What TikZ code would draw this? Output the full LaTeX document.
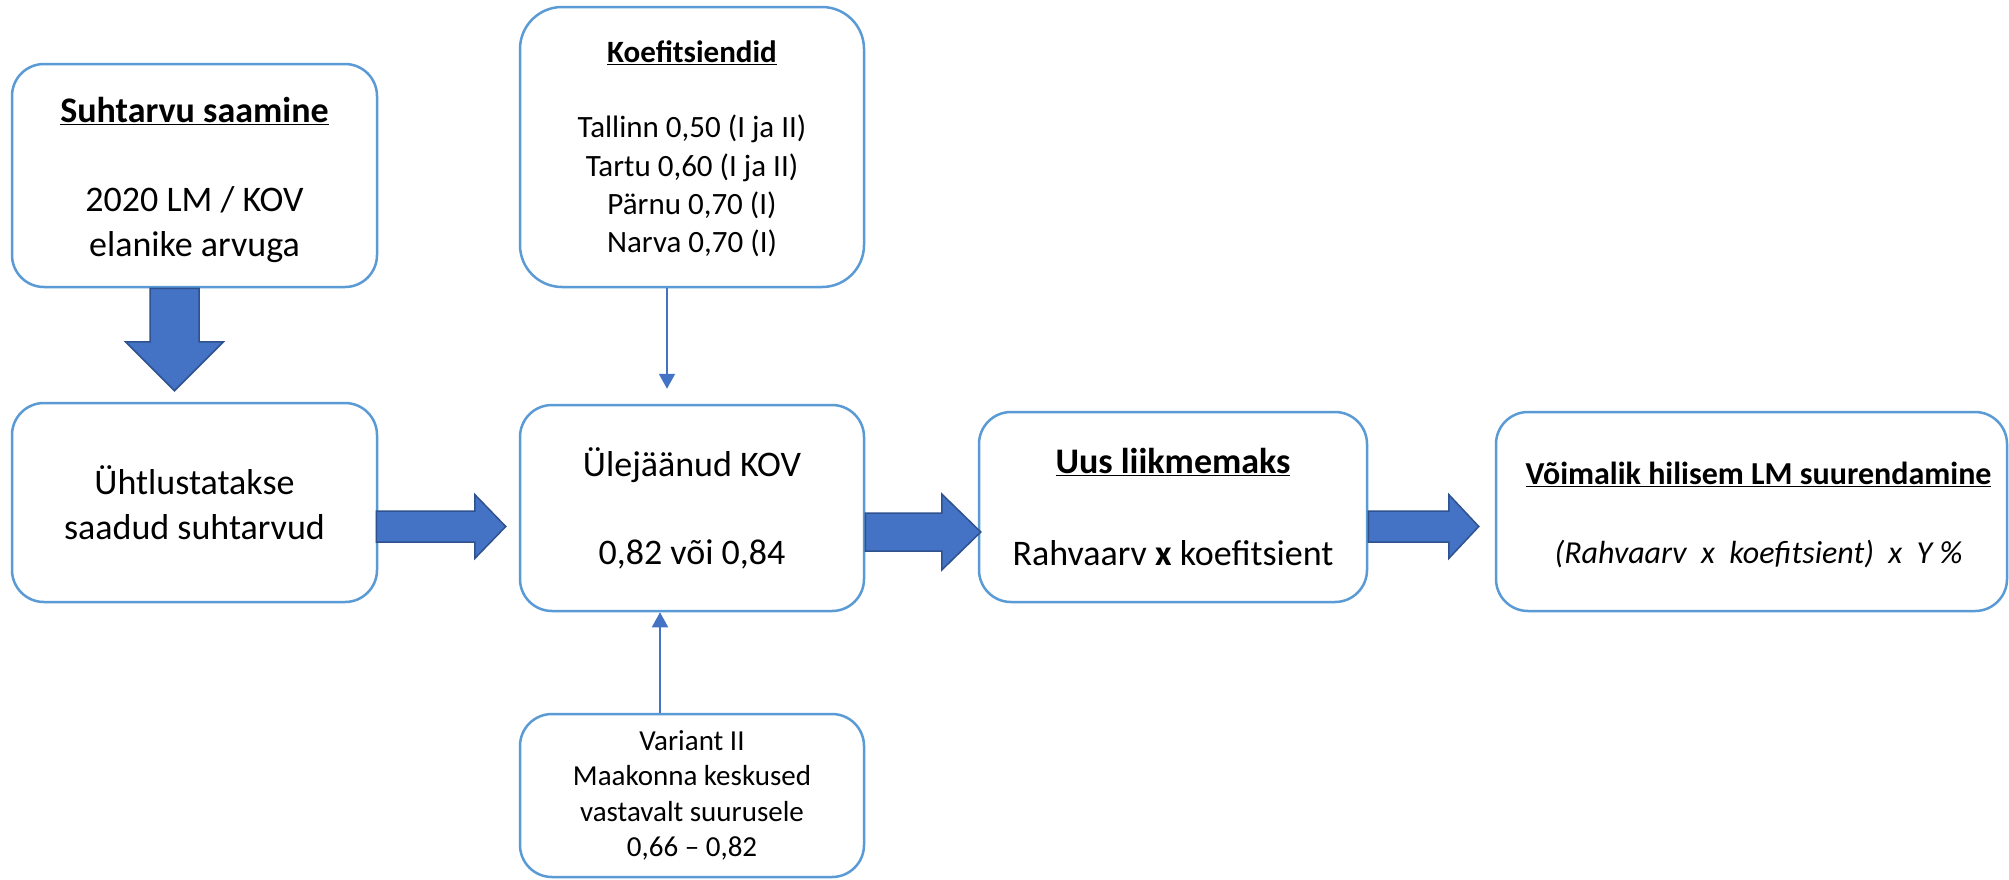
\documentclass[tikz,border=0pt]{standalone}
\usepackage{fontspec}
\setmainfont{Carlito}
\usetikzlibrary{arrows.meta,calc}
\definecolor{boxblue}{HTML}{5B9BD5}
\definecolor{arrowfill}{HTML}{4472C4}
\definecolor{arrowline}{HTML}{2F528F}
\newcommand{\fs}[2]{\fontsize{#1}{#2}\selectfont}
\tikzset{
  box/.style={draw=boxblue, line width=2.5pt, rounded corners=32pt, fill=white,
    align=center, inner sep=0pt, anchor=center},
  bigarrow/.style={fill=arrowfill, draw=arrowline, line width=1.5pt, line join=miter},
  thinarrow/.style={draw=arrowfill, line width=2pt, -{Triangle[width=16pt,length=15pt]}}
}
% horizontal block arrow: start, tip, shaft half width, head half width, head length
\newcommand{\hblock}[5]{%
  \draw[bigarrow] let \p1=(#1), \p2=(#2) in
    (\x1,\y1+#3) -- (\x2-#5,\y1+#3) -- (\x2-#5,\y1+#4) -- (\x2,\y1)
    -- (\x2-#5,\y1-#4) -- (\x2-#5,\y1-#3) -- (\x1,\y1-#3) -- cycle;}
\newcommand{\vblock}[5]{%
  \draw[bigarrow] let \p1=(#1), \p2=(#2) in
    (\x1+#3,\y1) -- (\x1+#3,\y2+#5) -- (\x1+#4,\y2+#5) -- (\x1,\y2)
    -- (\x1-#4,\y2+#5) -- (\x1-#3,\y2+#5) -- (\x1-#3,\y1) -- cycle;}
\begin{document}
\begin{tikzpicture}[x=1pt,y=-1pt]
\useasboundingbox[fill=white] (0,0) rectangle (2009,879);

% boxes
\node[box, minimum width=365pt, minimum height=223pt, font=\fs{36}{45}] (b1) at (194.5,175.5)
  {\rule{0pt}{34pt}\textbf{\underline{Suhtarvu saamine}}\\[44pt]2020 LM / KOV\\elanike arvuga};
\node[box, minimum width=365pt, minimum height=199pt, font=\fs{36}{45}] (b2) at (194.5,502.5)
  {Ühtlustatakse\\saadud suhtarvud};
\node[box, rounded corners=42pt, minimum width=344pt, minimum height=280pt, font=\fs{31}{38.3}] (b0) at (692,147)
  {\rule{0pt}{26pt}\textbf{\underline{Koefitsiendid}}\\[36.7pt]Tallinn 0,50 (I ja II)\\Tartu 0,60 (I ja II)\\Pärnu 0,70 (I)\\Narva 0,70 (I)};
\node[box, minimum width=344pt, minimum height=206pt, font=\fs{36}{44}] (b3) at (692,508)
  {Ülejäänud KOV\\[44pt]0,82 või 0,84};
\node[box, minimum width=344pt, minimum height=163pt, font=\fs{29}{35.5}] (bv) at (692,795.5)
  {Variant II\\Maakonna keskused\\vastavalt suurusele\\0,66 – 0,82};
\node[box, minimum width=388pt, minimum height=190pt, font=\fs{36}{46}] (b4) at (1173,507)
  {\textbf{\underline{Uus liikmemaks}}\\[46pt]Rahvaarv \textbf{x} koefitsient};
\node[box, minimum width=511pt, minimum height=199pt, font=\fs{32}{39}] (b5) at (1751.5,511.5)
  {\hspace*{14pt}\rule{0pt}{30pt}\textbf{\underline{Võimalik hilisem LM suurendamine}}\\[40pt]\hspace*{14pt}\textit{(Rahvaarv~~x~~koefitsient)~~x~~Y~\%}};

% block arrows
\coordinate (d1s) at ($(b1.south)+(-20,0)$);
\coordinate (d1e) at ($(d1s |- b2.north)+(0,-11)$);
\vblock{d1s}{d1e}{24.5pt}{49pt}{49pt}

\coordinate (a1s) at ($(b2.east)+(-2,24)$);
\coordinate (a1e) at ($(a1s -| b3.west)+(-13,0)$);
\hblock{a1s}{a1e}{15.5pt}{32pt}{31pt}

\coordinate (a2s) at ($(b3.east)+(0,24)$);
\coordinate (a2e) at ($(a2s -| b4.west)+(3,0)$);
\hblock{a2s}{a2e}{19pt}{38pt}{39pt}

\coordinate (a3s) at ($(b4.east)+(0,19.5)$);
\coordinate (a3e) at ($(a3s -| b5.west)+(-16,0)$);
\hblock{a3s}{a3e}{15.5pt}{32pt}{30pt}

% thin arrows
\coordinate (t1s) at ($(b0.south)+(-25,0)$);
\coordinate (t1e) at ($(t1s |- b3.north)+(0,-15)$);
\draw[thinarrow] (t1s) -- (t1e);
\coordinate (t2s) at ($(bv.north)+(-32,0)$);
\draw[thinarrow] (t2s) -- (t2s |- b3.south);
\end{tikzpicture}
\end{document}
